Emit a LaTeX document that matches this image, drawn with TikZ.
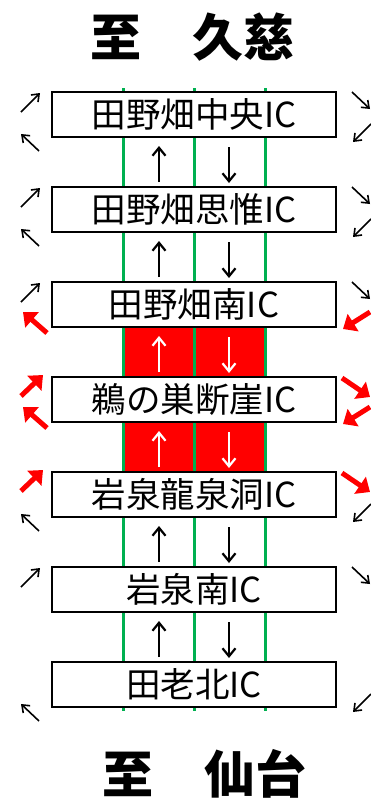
\documentclass[tikz,border=0pt]{standalone}
\usepackage{fontspec}
\setmainfont{Noto Sans CJK JP}
\usepackage{tikz}
\usetikzlibrary{arrows.meta,positioning,backgrounds}
\definecolor{lanegreen}{RGB}{0,176,80}

\begin{document}
\begin{tikzpicture}[x=1pt, y=1pt,
    ic style/.style={draw, line width=1.8pt, fill=white, minimum width=284pt, minimum height=45pt, inner sep=0pt, outer sep=0pt, font=\fontsize{34.5}{34.5}\selectfont},
    title style/.style={font=\fontsize{51}{51}\selectfont\bfseries},
    lane line/.style={draw=lanegreen, line width=3pt},
    lane arrow/.style={-{Straight Barb[length=8pt, width=13pt]}, line width=2.2pt},
    ramp arrow/.style={-{Straight Barb[length=6.5pt, width=10pt]}, line width=1.6pt},
    closed arrow/.style={red, line width=5pt, -{Triangle[length=12pt, width=20pt]}},
    node distance=50pt
]
\useasboundingbox (0,0) rectangle (371,-803);

\node[title style] (kuji) at (192.5,-37) {至　久慈};

\node[ic style] (chuo) at (194,-114.5) {田野畑中央IC};
\node[ic style, below=of chuo] (shii) {田野畑思惟IC};
\node[ic style, below=of shii] (tminami) {田野畑南IC};
\node[ic style, below=of tminami] (unosu) {鵜の巣断崖IC};
\node[ic style, below=of unosu] (ryusen) {岩泉龍泉洞IC};
\node[ic style, below=of ryusen] (iminami) {岩泉南IC};
\node[ic style, below=of iminami] (taro) {田老北IC};

\node[title style] (sendai) at (204,-774) {至　仙台};

% closed section and lanes
\begin{scope}[on background layer]
    \fill[red] ([xshift=-71pt]tminami.south) rectangle ([xshift=71pt]unosu.north);
    \fill[red] ([xshift=-71pt]unosu.south) rectangle ([xshift=71pt]ryusen.north);
    \foreach \dx in {-71,0,71}
        \draw[lane line] ([shift={(\dx,4)}]chuo.north) -- ([shift={(\dx,-4)}]taro.south);
\end{scope}

% through traffic
\foreach \a/\b/\c in {chuo/shii/black, shii/tminami/black, tminami/unosu/white, unosu/ryusen/white, ryusen/iminami/black, iminami/taro/black} {
    \draw[lane arrow, \c] ([shift={(-35,5)}]\b.north) -- ([shift={(-35,-9)}]\a.south);
    \draw[lane arrow, \c] ([shift={(35,-10)}]\a.south) -- ([shift={(35,4)}]\b.north);
}

% ramps
\foreach \n in {chuo, shii, tminami, iminami} {
    \draw[ramp arrow] ([shift={(-31,-20)}]\n.north west) -- ++(19,19);
    \draw[ramp arrow] ([shift={(16,0)}]\n.north east) -- ++(18,-17);
}
\foreach \n in {chuo, shii, ryusen, taro} {
    \draw[ramp arrow] ([shift={(-13,-14)}]\n.south west) -- ++(-18,17);
    \draw[ramp arrow] ([shift={(35,13)}]\n.south east) -- ++(-18,-18);
}
\foreach \n in {unosu, ryusen} {
    \draw[closed arrow] ([shift={(-31,-19)}]\n.north west) -- ++(22,21);
    \draw[closed arrow] ([shift={(6,-1)}]\n.north east) -- ++(28,-19);
}
\foreach \n in {tminami, unosu} {
    \draw[closed arrow] ([shift={(-5,-6)}]\n.south west) -- ++(-24,21);
    \draw[closed arrow] ([shift={(34,15)}]\n.south east) -- ++(-27,-17);
}
\end{tikzpicture}
\end{document}
